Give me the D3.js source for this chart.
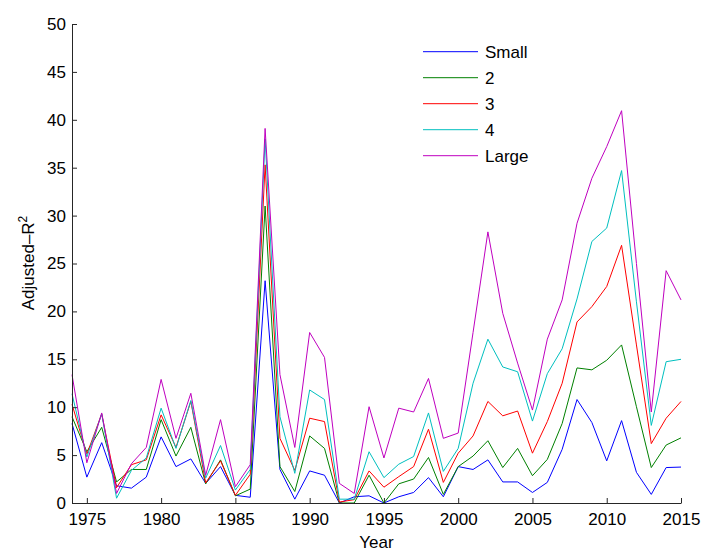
<!DOCTYPE html>
<html><head><meta charset="utf-8">
<script src="https://cdn.jsdelivr.net/npm/d3@7"></script>
<style>
body{margin:0;background:#fff;}
text{font-family:"Liberation Sans",Arial,Helvetica,sans-serif;}
</style></head>
<body><svg id="chart" width="704" height="552"></svg>
<script>
const years = d3.range(1974, 2016);
const seriesNames = ["Small", "2", "3", "4", "Large"];
const seriesColors = ["#0000ff", "#008000", "#ff0000", "#00bfbf", "#bf00bf"];
const small = [8.3,2.7,6.3,1.8,1.55,2.7,6.9,3.8,4.6,2.05,3.8,0.8,0.6,23.2,3.5,0.4,3.35,2.9,0.0,0.65,0.75,0.0,0.65,1.1,2.65,0.65,3.8,3.5,4.5,2.2,2.2,1.1,2.15,5.6,10.8,8.4,4.4,8.6,3.2,0.9,3.7,3.75];
const q2 = [9.0,5.35,7.9,2.2,3.5,3.5,8.7,4.9,7.9,2.0,4.5,0.75,1.45,31.0,3.8,1.2,7.0,5.7,0.0,0.0,2.9,0.0,2.0,2.5,4.75,0.9,3.8,4.9,6.5,3.7,5.7,2.85,4.55,8.3,14.1,13.9,14.9,16.5,10.05,3.7,6.05,6.8];
const q3 = [10.3,5.1,9.3,1.6,4.0,4.5,9.2,5.8,10.6,2.1,4.4,0.8,3.0,35.3,6.75,3.4,8.85,8.5,0.1,0.35,3.35,1.65,2.75,3.8,7.7,2.15,5.2,7.0,10.6,9.1,9.6,5.2,8.5,12.5,18.9,20.5,22.6,26.9,16.5,6.2,8.85,10.6];
const q4 = [11.4,4.8,9.3,0.5,3.4,4.7,9.9,5.7,10.7,2.6,6.0,1.35,3.5,38.0,9.0,3.1,11.8,10.8,0.4,0.4,5.35,2.65,4.05,4.85,9.4,3.3,5.7,12.5,17.1,14.2,13.7,8.55,13.5,16.1,21.3,27.3,28.7,34.7,21.0,8.1,14.75,15.0];
const large = [13.4,4.2,9.4,1.0,4.1,5.8,12.9,6.75,11.45,2.9,8.7,1.7,4.0,39.1,13.4,5.8,17.8,15.2,2.05,1.0,10.05,4.7,9.9,9.5,13.0,6.75,7.3,17.8,28.3,19.8,14.6,9.7,17.1,21.2,29.2,33.9,37.2,40.95,25.0,9.5,24.25,21.2];
const xTicks = [1975,1980,1985,1990,1995,2000,2005,2010,2015];
const yTicks = [0,5,10,15,20,25,30,35,40,45,50];

const allSeries = [small, q2, q3, q4, large];
const svg = d3.select("#chart");
const x = d3.scaleLinear().domain([1974, 2015]).range([72, 681]);
const y = d3.scaleLinear().domain([0, 50]).range([503, 24]);

const line = d3.line().x((d,i)=>x(years[i])).y(d=>y(d));
allSeries.forEach((s,k)=>{
  svg.append("path").datum(s).attr("d", line)
    .attr("fill","none").attr("stroke", seriesColors[k]).attr("stroke-width",1)
    .attr("stroke-linejoin","miter");
});

const axisColor = "#262626";
const gx = svg.append("g").attr("transform","translate(0,503)")
  .call(d3.axisBottom(x).tickValues(xTicks).tickFormat(d3.format("d")).tickSizeInner(-5).tickSizeOuter(0).tickPadding(10));
const gy = svg.append("g").attr("transform","translate(72,0)")
  .call(d3.axisLeft(y).tickValues(yTicks).tickSizeInner(-5).tickSizeOuter(0).tickPadding(6));
[gx, gy].forEach(g=>{
  g.select(".domain").attr("stroke", axisColor).attr("stroke-width",1);
  g.selectAll(".tick line").attr("stroke", axisColor);
  g.selectAll(".tick text").attr("fill","#000").style("font-size","17px").style("font-family","'Liberation Sans',Arial,sans-serif");
});

svg.append("text").attr("x", 376.5).attr("y", 548).attr("text-anchor","middle")
  .style("font-size","17px").attr("fill","#000").text("Year");

const yl = svg.append("text").attr("transform","translate(34,263) rotate(-90)")
  .attr("text-anchor","middle").style("font-size","17px").attr("fill","#000");
yl.append("tspan").text("Adjusted–R");
yl.append("tspan").attr("dy","-7").style("font-size","12px").text("2");

const leg = svg.append("g");
seriesNames.forEach((n,i)=>{
  const yy = 51.7 + i*26;
  leg.append("line").attr("x1",423).attr("x2",478).attr("y1",yy).attr("y2",yy)
    .attr("stroke", seriesColors[i]).attr("stroke-width",1);
  leg.append("text").attr("x",485).attr("y",yy).attr("dy","0.35em")
    .style("font-size","17px").attr("fill","#000").text(n);
});
</script></body></html>
